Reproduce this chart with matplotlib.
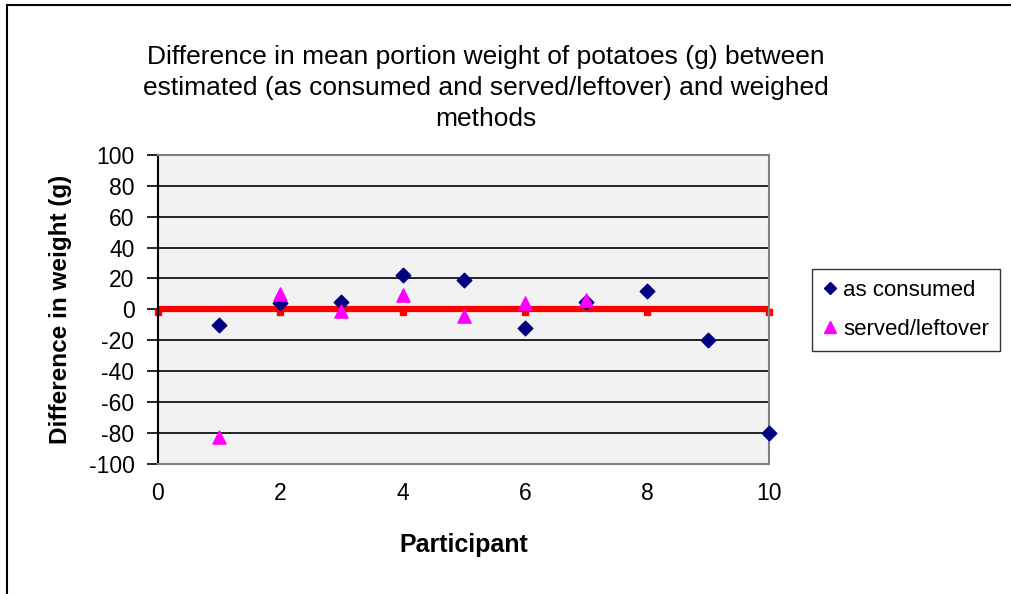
import matplotlib
matplotlib.use("Agg")
import matplotlib.pyplot as plt
from matplotlib.lines import Line2D
import matplotlib.transforms as mtransforms

participants = [1, 2, 3, 4, 5, 6, 7, 8, 9, 10]
as_consumed = [-10, 4, 5, 22, 19, -12, 5, 12, -20, -80]
served_x = [1, 2, 3, 4, 5, 6, 7]
served_leftover = [-83, 10, -1, 9, -4, 4, 6]
zero_x = [0, 2, 4, 6, 8, 10]
zero_y = [0, 0, 0, 0, 0, 0]
yticks = list(range(-100, 101, 20))
xticks = list(range(0, 11, 2))

plt.rcParams['font.family'] = ['Liberation Sans', 'DejaVu Sans']
plt.rcParams['axes.unicode_minus'] = False

W, H = 1012, 594
fig = plt.figure(figsize=(W / 100, H / 100), dpi=100)
ax = fig.add_axes([158 / W, 1 - 463.7 / H, (769.5 - 158) / W, (463.7 - 155) / H])
ax.set_facecolor('#f2f2f2')

# red zero line with small square marks slightly below it
ax.plot(zero_x, zero_y, color='#ff0000', lw=4.5, zorder=2, clip_on=False, solid_capstyle='butt')
offset = mtransforms.ScaledTranslation(0, -3 / 100, fig.dpi_scale_trans)
ax.plot(zero_x, zero_y, ls='none', marker='s', ms=5, color='#ff0000', zorder=2,
        clip_on=False, transform=ax.transData + offset)

ax.scatter(participants, as_consumed, marker='D', s=55, color='#000080', zorder=3,
           clip_on=False, label='as consumed')
ax.scatter(served_x, served_leftover, marker='^', s=90, color='#ff00ff', zorder=4,
           clip_on=False, label='served/leftover')

ax.set_xlim(0, 10)
ax.set_ylim(-100, 100)
ax.set_yticks(yticks)
ax.set_xticks(xticks)
ax.tick_params(axis='y', direction='out', length=8, width=1.2, labelsize=16.5, pad=9)
ax.tick_params(axis='x', length=0, labelsize=16.5, pad=13)
ax.yaxis.grid(True, color='black', lw=1.2)
ax.set_axisbelow(True)
for s in ['top', 'right', 'bottom']:
    ax.spines[s].set_color('#808080')
    ax.spines[s].set_linewidth(1.5)
ax.spines['left'].set_color('black')
ax.spines['left'].set_linewidth(1.5)

ax.set_ylabel('Difference in weight (g)', fontsize=17.5, fontweight='bold', labelpad=12)
ax.set_xlabel('Participant', fontsize=18, fontweight='bold', labelpad=20)

fig.text(486 / W, 1 - 88 / H,
         'Difference in mean portion weight of potatoes (g) between\n'
         'estimated (as consumed and served/leftover) and weighed\nmethods',
         ha='center', va='center', fontsize=19, linespacing=1.35)

handles = [
    Line2D([], [], marker='D', ls='none', color='#000080', ms=6),
    Line2D([], [], marker='^', ls='none', color='#ff00ff', ms=8),
]
leg = fig.legend(handles, ['as consumed', 'served/leftover'], loc='upper left',
                 bbox_to_anchor=(812 / W, 1 - 269 / H), frameon=True, fancybox=False,
                 fontsize=16, handlelength=0.6, handletextpad=0.3, labelspacing=0.8,
                 borderpad=0.5, borderaxespad=0, edgecolor='black')
leg.get_frame().set_linewidth(1.0)

# outer chart border
fig.add_artist(Line2D([7 / W, 7 / W], [0, 1 - 5 / H], transform=fig.transFigure, color='black', lw=1.5))
fig.add_artist(Line2D([7 / W, 1], [1 - 5 / H, 1 - 5 / H], transform=fig.transFigure, color='black', lw=1.5))

fig.savefig('out.png', dpi=100)
